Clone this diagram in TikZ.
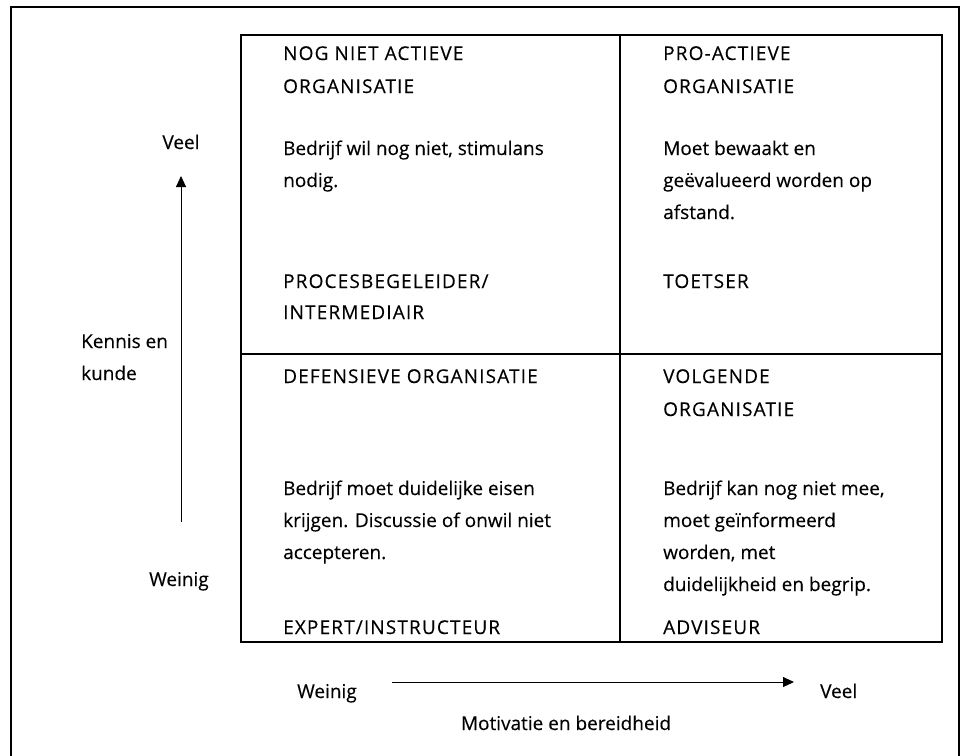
\documentclass[tikz,border=0pt]{standalone}
\usepackage{fontspec}
\setmainfont{Open Sans}
\usetikzlibrary{arrows.meta}
\newcommand{\txtsize}{\fontsize{19}{32}\selectfont\addfontfeatures{FakeBold=0.25}}
\newcommand{\capsize}{\fontsize{19}{32}\selectfont\addfontfeatures{FakeBold=0.25,LetterSpace=6}}
\begin{document}
\begin{tikzpicture}[x=1pt,y=-1pt,
  ln/.style={anchor=base west, inner sep=0pt, font=\txtsize},
  capln/.style={anchor=base west, inner sep=0pt, font=\capsize},
  mid/.style={anchor=base, inner sep=0pt, font=\txtsize},
  outer/.style={line width=1.8pt},
  box/.style={line width=1.6pt},
  divider/.style={line width=1.1pt},
  axis/.style={line width=0.9pt, -{Triangle[length=11pt,width=10pt]}}]

\useasboundingbox (0,0) rectangle (965,755);

% outer frame, open at the bottom edge
\draw[outer] (11,760) -- (11,7) -- (959,7) -- (959,760);

% the quadrant box
\draw[box] (241,35) rectangle (942,642);
\draw[divider] (620,35) -- (620,642);
\draw[divider] (241,354) -- (942,354);

% vertical axis
\coordinate (vlow) at (181,522);
\coordinate (vhigh) at (181,176);
\draw[axis] (vlow) -- (vhigh);
\node[mid] (vveel) at (181,149) {Veel};
\node[ln] (kennis1) at (81,348) {Kennis en};
\node[ln] (kennis2) at (81,380) {kunde};
\node[ln] (vweinig) at (149,586) {Weinig};

% horizontal axis
\coordinate (hlow) at (392,682);
\coordinate (hhigh) at (794,682);
\draw[axis] (hlow) -- (hhigh);
\node[ln] (hweinig) at (297,698) {Weinig};
\node[ln] (hveel) at (820,698) {Veel};
\node[mid] (motiv) at (566,730) {Motivatie en bereidheid};

% top left
\node[capln] (tl1) at (283,60) {NOG NIET ACTIEVE};
\node[capln] (tl2) at (283,93) {ORGANISATIE};
\node[ln] (tl3) at (283,155) {Bedrijf wil nog niet, stimulans};
\node[ln] (tl4) at (283,187) {nodig.};
\node[capln] (tl5) at (283,288) {PROCESBEGELEIDER/};
\node[capln] (tl6) at (283,319) {INTERMEDIAIR};

% top right
\node[capln] (tr1) at (663,60) {PRO-ACTIEVE};
\node[capln] (tr2) at (663,93) {ORGANISATIE};
\node[ln] (tr3) at (663,155) {Moet bewaakt en};
\node[ln] (tr4) at (663,187) {geëvalueerd worden op};
\node[ln] (tr5) at (663,219) {afstand.};
\node[capln] (tr6) at (663,288) {TOETSER};

% bottom left
\node[capln] (bl1) at (283,383) {DEFENSIEVE ORGANISATIE};
\node[ln] (bl2) at (283,495) {Bedrijf moet duidelijke eisen};
\node[ln] (bl3) at (283,527) {krijgen. Discussie of onwil niet};
\node[ln] (bl4) at (283,559) {accepteren.};
\node[capln] (bl5) at (283,634) {EXPERT/INSTRUCTEUR};

% bottom right
\node[capln] (br1) at (663,383) {VOLGENDE};
\node[capln] (br2) at (663,416) {ORGANISATIE};
\node[ln] (br3) at (663,495) {Bedrijf kan nog niet mee,};
\node[ln] (br4) at (663,527) {moet geïnformeerd};
\node[ln] (br5) at (663,559) {worden, met};
\node[ln] (br6) at (663,591) {duidelijkheid en begrip.};
\node[capln] (br7) at (663,634) {ADVISEUR};

\end{tikzpicture}
\end{document}
